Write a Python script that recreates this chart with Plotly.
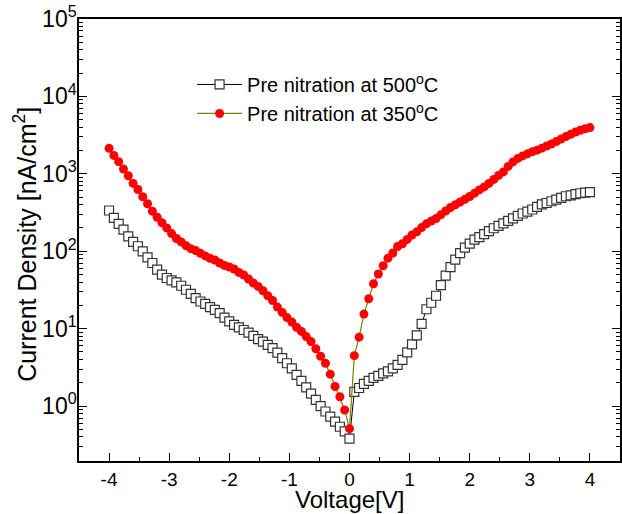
import numpy as np
import plotly.graph_objects as go

# Bias voltage sweep, -4 V .. +4 V in 0.08 V steps
voltage = [round(-4 + 0.08 * i, 2) for i in range(101)]

# Current density [nA/cm^2], film pre-nitrided at 500 C
j_500 = [
    336, 270, 226, 190, 156, 132, 116, 99.7, 83.4, 70.5,
    57.8, 49.8, 45.1, 42.0, 39.6, 35.8, 31.8, 28.2, 24.8, 22.4,
    20.9, 19.0, 17.5, 15.9, 13.9, 12.4, 11.2, 10.4, 9.6, 8.9,
    8.07, 7.31, 6.81, 6.17, 5.59, 4.9, 4.15, 3.57, 3.06, 2.52,
    2.11, 1.74, 1.45, 1.20, 1.00, 0.85, 0.73, 0.63, 0.54, 0.47,
    0.38,
    1.52, 1.71, 1.93, 2.11, 2.31, 2.45, 2.64, 2.80, 3.06, 3.40,
    3.94, 4.93, 6.26, 8.2, 11.5, 17.8, 21.6, 26.6, 36.4, 48.3,
    62.2, 77.8, 94.5, 111, 125, 141, 152, 166, 182, 198,
    212, 229, 246, 265, 286, 307, 324, 346, 375, 402,
    420, 442, 463, 490, 513, 528, 547, 561, 571, 580,
]

# Current density [nA/cm^2], film pre-nitrided at 350 C
j_350 = [
    2134, 1730, 1435, 1150, 945, 751, 628, 505, 410, 329,
    275, 233, 200, 169, 146, 132, 118, 108, 102, 94,
    87, 81, 77, 70.5, 65.6, 62.6, 59, 53.3, 49.3, 43.8,
    38.8, 35.1, 30.9, 26.6, 23.1, 19.0, 16.2, 13.9, 12.2, 10.4,
    9.2, 7.9, 6.8, 5.5, 4.4, 3.57, 2.58, 1.79, 1.32, 0.89,
    0.51,
    4.48, 7.76, 15.4, 24.3, 38, 50.8, 65, 81.4, 95, 115,
    125, 142, 162, 178, 202, 226, 245, 264, 295, 331,
    367, 398, 433, 469, 510, 562, 619, 677, 751, 846,
    953, 1059, 1247, 1426, 1582, 1705, 1811, 1922, 2022, 2147,
    2286, 2427, 2606, 2808, 3025, 3238, 3468, 3648, 3818, 3955,
]

legend_500 = "Pre nitration at 500<sup>o</sup>C"
legend_350 = "Pre nitration at 350<sup>o</sup>C"
x_title = "Voltage[V]"
y_title = "Current Density [nA/cm<sup>2</sup>]"

x_ticks = [-4, -3, -2, -1, 0, 1, 2, 3, 4]
y_decades = [0, 1, 2, 3, 4, 5]
y_ticks = [10 ** d for d in y_decades]
y_ticktext = [f"10<sup>{d}</sup>" for d in y_decades]
y_minor = [k * 10 ** d for d in range(-1, 5) for k in range(2, 10)]

FONT = "Arial, 'Liberation Sans', sans-serif"

fig = go.Figure()
fig.add_trace(go.Scatter(
    x=voltage, y=j_500, mode="lines+markers", name=legend_500,
    legendgroup="a",
    line=dict(color="black", width=1),
    marker=dict(symbol="square", size=9, color="white",
                line=dict(color="#333333", width=1.2)),
))
fig.add_trace(go.Scatter(
    x=voltage, y=j_350, mode="lines+markers", name=legend_350,
    legendgroup="b",
    line=dict(color="#808000", width=1.2),
    marker=dict(symbol="circle", size=9, color="#ff0000",
                line=dict(width=0)),
))

axis_common = dict(
    showgrid=False, zeroline=False, showline=True,
    linecolor="black", linewidth=1.5,
    ticks="inside", tickcolor="black", tickwidth=1.2, ticklen=8,
)

fig.update_xaxes(
    **axis_common,
    range=[-4.5, 4.5], mirror=True,
    tickmode="array", tickvals=x_ticks, ticktext=[str(v) for v in x_ticks],
    tickfont=dict(family=FONT, size=19, color="black"),
    minor=dict(ticks="inside", ticklen=4, tickwidth=1, tickcolor="black",
               dtick=0.5, showgrid=False),
)
fig.update_yaxes(
    **axis_common,
    type="log", range=[np.log10(0.195), 5], mirror="ticks",
    tickmode="array", tickvals=y_ticks, ticktext=y_ticktext,
    tickfont=dict(family=FONT, size=23, color="black"),
    ticklabelstandoff=-4,
    minor=dict(ticks="inside", ticklen=4, tickwidth=1, tickcolor="black",
               tickmode="array", tickvals=y_minor, showgrid=False),
)

# axis titles placed relative to the plotting area
fig.add_annotation(
    text=x_title,
    xref="paper", yref="paper", x=0.5, y=-0.121,
    xanchor="center", yanchor="bottom", showarrow=False, borderpad=0,
    font=dict(family=FONT, size=24, color="black"),
)
fig.add_annotation(
    text=y_title, textangle=-90,
    xref="paper", yref="paper", x=-0.099, y=0.49,
    xanchor="center", yanchor="middle", showarrow=False,
    font=dict(family=FONT, size=25, color="black"),
)

fig.update_layout(
    width=622, height=514,
    margin=dict(l=79, r=0, t=19, b=53),
    paper_bgcolor="white", plot_bgcolor="white",
    legend=dict(
        x=0.209, y=0.896, xanchor="left", yanchor="top",
        font=dict(family=FONT, size=20, color="black"),
        bgcolor="rgba(0,0,0,0)", borderwidth=0,
        traceorder="grouped", tracegroupgap=0, itemwidth=45,
    ),
    showlegend=True,
)

fig.write_html("out.html")
